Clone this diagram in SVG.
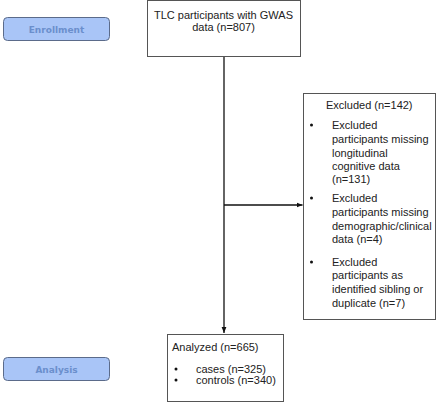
<svg xmlns="http://www.w3.org/2000/svg" width="440" height="408" viewBox="0 0 440 408">
<defs>
<style>
.box{fill:#fff;stroke:#555;stroke-width:1}
.stage{fill:#a9c5f7;stroke:#5b6b8a;stroke-width:1}
.t{font-family:"Liberation Sans",Arial,sans-serif;font-size:11px;fill:#222}
.st{font-family:"DejaVu Sans",Verdana,sans-serif;font-size:9px;font-weight:bold;fill:#6b8fcc}
.ln{stroke:#111;stroke-width:1.3;fill:none}
</style>
<marker id="ah" viewBox="0 0 10 10" refX="10" refY="5" markerWidth="6" markerHeight="6" markerUnits="userSpaceOnUse" orient="auto">
<path d="M0,1 L10,5 L0,9 z" fill="#111"/>
</marker>
</defs>
<rect width="440" height="408" fill="#fff"/>
<g id="enrollment">
<rect class="stage" x="3.5" y="17.5" width="106" height="23" rx="4"/>
<text class="st" x="56.5" y="32.5" text-anchor="middle">Enrollment</text>
</g>
<g id="analysis">
<rect class="stage" x="3.5" y="357.5" width="106" height="23" rx="4"/>
<text class="st" x="56.5" y="372.5" text-anchor="middle">Analysis</text>
</g>
<g id="connectors">
<line class="ln" x1="224" y1="57" x2="224" y2="333" marker-end="url(#ah)"/>
<line class="ln" x1="224" y1="205" x2="302.5" y2="205" marker-end="url(#ah)"/>
</g>
<g id="tlc">
<rect class="box" x="147.5" y="0.5" width="153" height="56"/>
<text class="t" x="223.5" y="19" text-anchor="middle">TLC participants with GWAS</text>
<text class="t" x="223.5" y="31" text-anchor="middle">data (n=807)</text>
</g>
<g id="excluded">
<rect class="box" x="303.5" y="93.5" width="132" height="226"/>
<text class="t" x="326" y="109">Excluded (n=142)</text>
<circle cx="311.5" cy="125" r="1.5" fill="#111"/>
<text class="t" x="332" y="129">Excluded</text>
<text class="t" x="332" y="143">participants missing</text>
<text class="t" x="332" y="157">longitudinal</text>
<text class="t" x="332" y="170">cognitive data</text>
<text class="t" x="332" y="183">(n=131)</text>
<circle cx="311.5" cy="198" r="1.5" fill="#111"/>
<text class="t" x="332" y="202">Excluded</text>
<text class="t" x="332" y="216">participants missing</text>
<text class="t" x="332" y="230">demographic/clinical</text>
<text class="t" x="332" y="243">data (n=4)</text>
<circle cx="311.5" cy="262" r="1.5" fill="#111"/>
<text class="t" x="332" y="266">Excluded</text>
<text class="t" x="332" y="279">participants as</text>
<text class="t" x="332" y="293">identified sibling or</text>
<text class="t" x="332" y="307">duplicate (n=7)</text>
</g>
<g id="analyzed">
<rect class="box" x="167.5" y="334.5" width="116" height="67"/>
<text class="t" x="172" y="351">Analyzed (n=665)</text>
<circle cx="176" cy="369" r="1.5" fill="#111"/>
<text class="t" x="196" y="373">cases (n=325)</text>
<circle cx="176" cy="380" r="1.5" fill="#111"/>
<text class="t" x="196" y="384">controls (n=340)</text>
</g>
</svg>
